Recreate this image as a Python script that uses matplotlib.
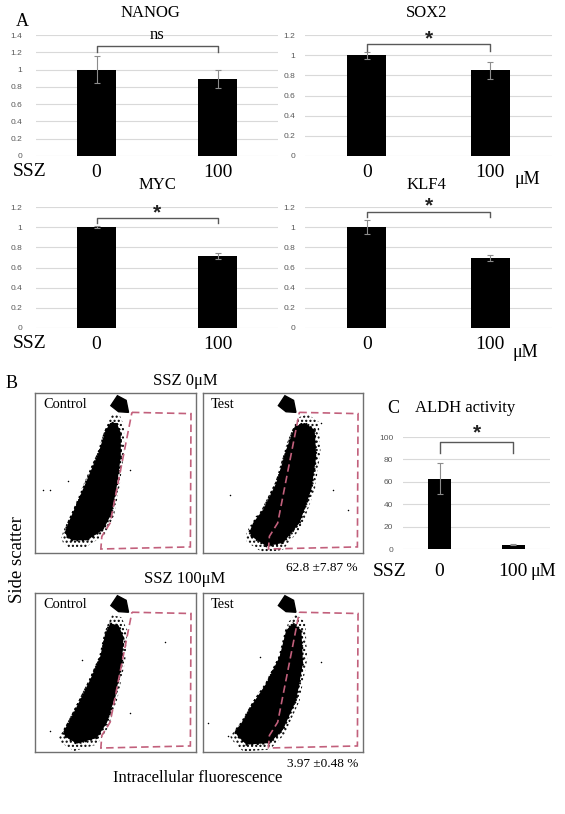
import matplotlib
matplotlib.use('Agg')
import matplotlib.pyplot as plt
from matplotlib.patches import Polygon
import numpy as np

W, H = 565, 814

# --- dados ---
grupos = ['0', '100']

nanog = [1.00, 0.89]
nanog_err = [0.16, 0.10]
sox2 = [1.00, 0.85]
sox2_err = [0.035, 0.085]
myc = [1.00, 0.71]
myc_err = [0.012, 0.03]
klf4 = [1.00, 0.69]
klf4_err = [0.07, 0.03]

aldh = [62.8, 3.97]
aldh_err = [13.8, 0.48]

# nuvens de pontos da citometria (contorno, coordenadas 0-100 dentro da caixa)
ctrl0_x = [19.7, 22.8, 32.2, 42.5, 47.7, 50.8, 53.3, 53.3, 50.8, 46.7, 43.6, 39.4, 33.2, 27.0, 20.7, 18.7]
ctrl0_y = [10.4, 7.9, 7.9, 14.6, 25.0, 41.7, 60.4, 75.0, 81.3, 81.3, 76.0, 62.5, 47.9, 33.3, 18.8, 13.5]
test0_x = [30.2, 39.6, 50.0, 60.4, 67.7, 70.8, 69.8, 63.5, 57.3, 52.0, 45.8, 37.5, 31.3, 29.2]
test0_y = [10.4, 4.2, 6.3, 18.8, 39.6, 60.4, 77.0, 81.3, 79.0, 64.6, 43.8, 27.0, 18.8, 13.5]
ctrl100_x = [18.7, 25.9, 38.4, 44.6, 49.8, 54.0, 55.0, 51.9, 46.7, 43.6, 40.5, 34.2, 27.0, 20.7, 17.6]
ctrl100_y = [9.8, 5.2, 8.8, 18.2, 34.9, 55.7, 72.4, 79.7, 80.8, 74.5, 60.0, 45.3, 30.7, 18.2, 12.9]
test100_x = [21.9, 27.1, 41.7, 50.0, 58.3, 62.5, 61.5, 56.3, 52.0, 47.9, 39.6, 31.3, 24.0, 19.8]
test100_y = [9.8, 4.6, 5.6, 14.0, 32.8, 55.7, 76.6, 80.8, 76.6, 60.0, 43.2, 30.7, 18.2, 12.9]

# eventos soltos fora da nuvem
solto_ctrl0_x = [5.2, 9.3, 20.7, 59.0]
solto_ctrl0_y = [39.6, 39.6, 44.8, 52.0]
solto_test0_x = [16.7, 33.3, 81.0, 74.0, 90.6]
solto_test0_y = [36.5, 23.0, 39.6, 81.0, 27.0]
solto_ctrl100_x = [29.0, 80.9, 59.0, 9.3]
solto_ctrl100_y = [57.8, 69.3, 24.4, 12.9]
solto_test100_x = [3.1, 74.0, 15.6, 35.4]
solto_test100_y = [18.2, 56.8, 9.8, 60.0]

# gate e seta
gate_x = [60.2, 96.9, 96.5, 40.9, 41.5, 46.7]
gate_y = [87.9, 87.1, 3.8, 2.5, 10.4, 18.8]
seta_x = [47.1, 51.2, 56.6, 58.1, 51.9]
seta_y = [92.1, 98.3, 95.4, 87.9, 88.3]

SERIF = 'Liberation Serif'
SANS = 'Liberation Sans'

plt.rcParams['hatch.linewidth'] = 1.0

fig = plt.figure(figsize=(W / 100, H / 100), dpi=100)


def eixo(x0, y0, x1, y1):
    return fig.add_axes([x0 / W, 1 - y1 / H, (x1 - x0) / W, (y1 - y0) / H])


def texto(x, y, s, **kw):
    kw.setdefault('family', SERIF)
    kw.setdefault('ha', 'center')
    kw.setdefault('va', 'center')
    fig.text(x / W, 1 - y / H, s, **kw)


def barras(ax, vals, errs, ymax, passo, pad, sig, y_linha, y_perna, y_sig, sig_kw):
    x = np.arange(len(vals))
    ax.bar(x, vals, width=0.315, color='black', zorder=3)
    ax.errorbar(x, vals, yerr=errs, fmt='none', ecolor='#8c8c8c',
                elinewidth=0.8, capsize=2, capthick=0.8, zorder=4)
    ax.set_xlim(-0.5, 1.5)
    ax.set_ylim(0, ymax)
    yt = np.arange(0, ymax + passo / 2, passo)
    ax.set_yticks(yt)
    ax.set_yticklabels([f'{v:g}' for v in yt], family=SANS, fontsize=6, color='#595959')
    ax.grid(axis='y', color='#d9d9d9', lw=0.8, zorder=0)
    ax.set_axisbelow(True)
    for s in ax.spines.values():
        s.set_visible(False)
    ax.tick_params(length=0, axis='y', pad=pad)
    ax.tick_params(length=0, axis='x', pad=6)
    ax.set_xticks(x)
    ax.set_xticklabels(grupos, family=SERIF, fontsize=14)
    ax.plot([0, 0, 1, 1], [y_perna, y_linha, y_linha, y_perna], color='#595959',
            lw=1.0, clip_on=False, zorder=5)
    ax.text(0.5, y_sig, sig, ha='center', va='center', clip_on=False, **sig_kw)


estrela = dict(family=SANS, fontsize=15, fontweight='bold', color='#222222')
ns = dict(family=SERIF, fontsize=12)

# --- A ---
texto(22, 22, 'A', fontsize=13)
texto(150, 13, 'NANOG', fontsize=12)
texto(427, 13, 'SOX2', fontsize=12)
texto(157, 185, 'MYC', fontsize=12)
texto(426, 185, 'KLF4', fontsize=12)

ax = eixo(36, 35, 278, 156)
barras(ax, nanog, nanog_err, 1.4, 0.2, 10, 'ns', 1.276, 1.20, 1.40, ns)
ax = eixo(305, 35, 552, 156)
barras(ax, sox2, sox2_err, 1.2, 0.2, 7, '*', 1.108, 1.045, 1.16, estrela)
ax = eixo(36, 207, 278, 328)
barras(ax, myc, myc_err, 1.2, 0.2, 10, '*', 1.094, 1.04, 1.14, estrela)
ax = eixo(305, 207, 552, 328)
barras(ax, klf4, klf4_err, 1.2, 0.2, 7, '*', 1.148, 1.098, 1.21, estrela)

texto(30, 171, 'SSZ', fontsize=14)
texto(30, 343, 'SSZ', fontsize=14)
texto(527, 180, 'μM', fontsize=13)
texto(525, 353, 'μM', fontsize=13)

# --- B ---
texto(12, 384, 'B', fontsize=13)
texto(185, 381, 'SSZ 0μM', fontsize=12)
texto(185, 579, 'SSZ 100μM', fontsize=12)


def citometria(x0, y0, x1, y1, nome, nx, ny, sx, sy):
    ax = eixo(x0, y0, x1, y1)
    ax.set_xlim(0, 100)
    ax.set_ylim(0, 100)
    ax.set_xticks([])
    ax.set_yticks([])
    for s in ax.spines.values():
        s.set_color('#707070')
        s.set_linewidth(1.0)
    nuvem = np.column_stack([nx, ny])
    centro = nuvem.mean(axis=0)
    # borda granulada em volta da nuvem
    halo = centro + 1.13 * (nuvem - centro)
    ax.add_patch(Polygon(halo, closed=True, fill=False, ec='black', lw=0,
                         hatch='....', zorder=1))
    ax.add_patch(Polygon(nuvem, closed=True, fc='black', ec='black',
                         lw=1.5, ls=':', zorder=2))
    ax.scatter(sx, sy, s=1.2, c='black', lw=0, zorder=2)
    ax.add_patch(Polygon(np.column_stack([gate_x, gate_y]), closed=True, fill=False,
                         ec='#c2607c', lw=1.2, ls=(0, (4.5, 2.5)), zorder=3))
    ax.add_patch(Polygon(np.column_stack([seta_x, seta_y]), closed=True, fc='black',
                         ec='black', zorder=4))
    ax.text(5, 93, nome, family=SERIF, fontsize=10.4, va='center', ha='left')


citometria(35, 393, 196, 553, 'Control', ctrl0_x, ctrl0_y, solto_ctrl0_x, solto_ctrl0_y)
citometria(203, 393, 363, 553, 'Test', test0_x, test0_y, solto_test0_x, solto_test0_y)
citometria(35, 593, 196, 752, 'Control', ctrl100_x, ctrl100_y, solto_ctrl100_x, solto_ctrl100_y)
citometria(203, 593, 363, 752, 'Test', test100_x, test100_y, solto_test100_x, solto_test100_y)

texto(358, 568, '62.8 ±7.87 %', fontsize=9.5, ha='right')
texto(358, 764, '3.97 ±0.48 %', fontsize=9.5, ha='right')
texto(18, 560, 'Side scatter', fontsize=13.5, rotation=90)
texto(198, 778, 'Intracellular fluorescence', fontsize=12)

# --- C ---
texto(393, 408, 'C', fontsize=13)
texto(415, 408, 'ALDH activity', fontsize=12, ha='left')
ax = eixo(403, 437, 550, 549)
barras(ax, aldh, aldh_err, 100, 20, 7, '*', 95.8, 86.1, 104, estrela)
ax.set_xticklabels([])
texto(390, 572, 'SSZ', fontsize=14)
texto(439, 572, '0', fontsize=14)
texto(513, 572, '100', fontsize=14)
texto(543, 572, 'μM', fontsize=13)

fig.savefig('out.png', dpi=100)
